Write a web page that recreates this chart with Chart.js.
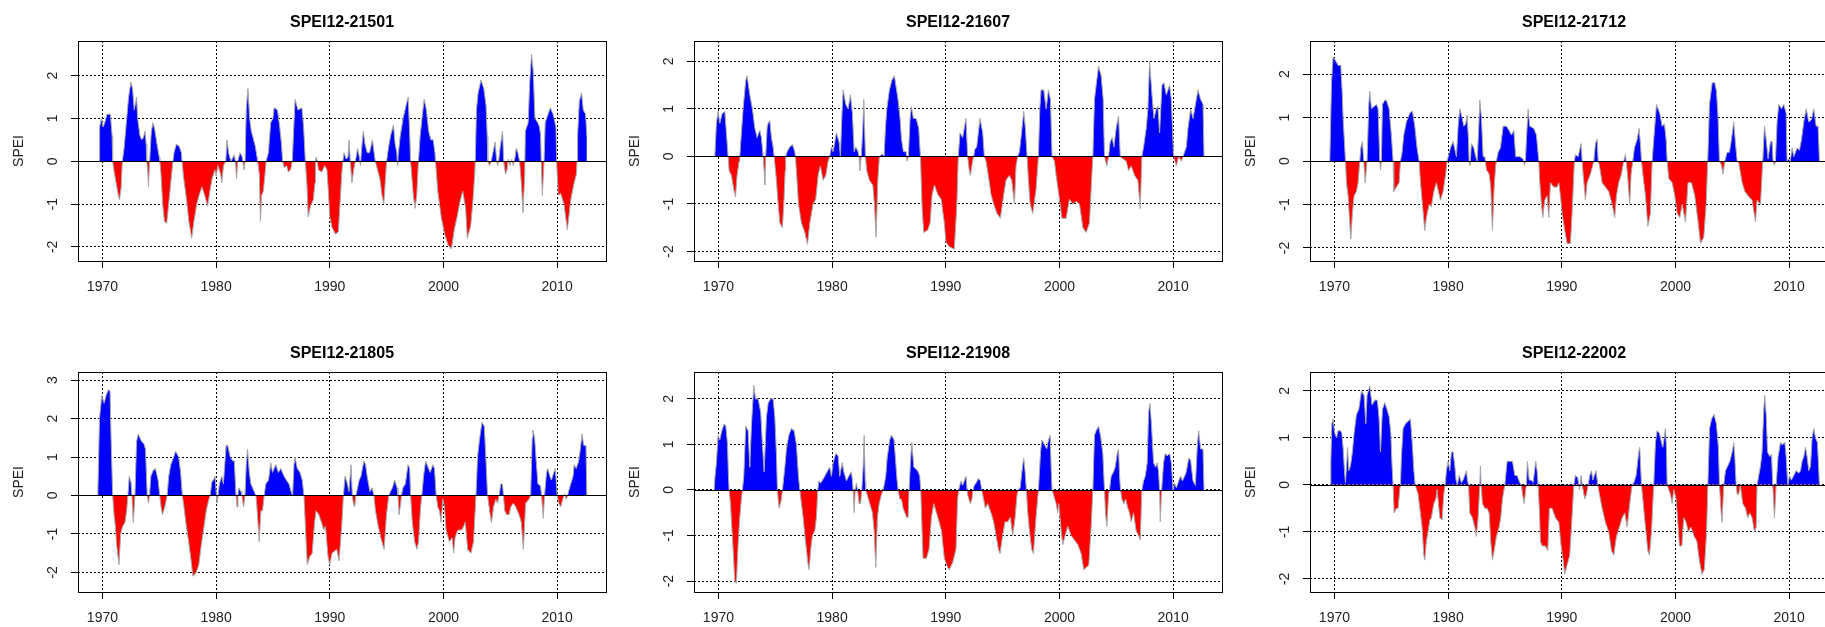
<!DOCTYPE html>
<html>
<head>
<meta charset="utf-8">
<script src="https://cdn.jsdelivr.net/npm/chart.js@4"></script>
<style>
  html, body { margin: 0; padding: 0; background: #fff; }
  body { width: 1825px; height: 627px; overflow: hidden; position: relative; }
  canvas { position: absolute; }
</style>
</head>
<body>
<script>
// SPEI-12 series, [decimal year, value]
const xTicks = [1970, 1980, 1990, 2000, 2010];
const yTicks5 = [-2, -1, 0, 1, 2];
const yTicks6 = [-2, -1, 0, 1, 2, 3];

const s21501 = [
  [1969.7,0],[1969.75,0.8],[1969.9,1.0],[1970.05,0.8],[1970.2,0.9],[1970.4,1.1],[1970.7,1.1],[1970.85,0.6],[1970.9,0],
  [1971.0,-0.2],[1971.2,-0.5],[1971.4,-0.8],[1971.5,-0.9],[1971.65,-0.6],[1971.75,0],[1971.9,0.3],[1972.1,0.9],[1972.3,1.5],
  [1972.5,1.85],[1972.65,1.7],[1972.8,1.2],[1973.0,1.5],[1973.1,1.0],[1973.3,0.6],[1973.45,0.5],[1973.6,0.55],[1973.75,0.7],
  [1973.85,0.4],[1973.9,0],[1974.0,-0.3],[1974.05,-0.6],[1974.15,0],[1974.3,0.7],[1974.45,0.9],[1974.6,0.75],[1974.8,0.4],
  [1975.0,0.1],[1975.05,0],[1975.15,-0.3],[1975.3,-1.0],[1975.45,-1.4],[1975.65,-1.45],[1975.75,-1.2],[1975.9,-0.8],
  [1976.05,-0.4],[1976.2,0],[1976.3,0.2],[1976.5,0.4],[1976.75,0.35],[1976.95,0.2],[1977.0,0],[1977.15,-0.4],[1977.4,-0.9],
  [1977.6,-1.4],[1977.85,-1.8],[1978.05,-1.4],[1978.3,-1.0],[1978.5,-0.8],[1978.75,-0.6],[1979.0,-0.8],[1979.25,-1.05],
  [1979.45,-0.7],[1979.65,-0.4],[1979.9,-0.2],[1980.0,-0.35],[1980.15,-0.1],[1980.4,-0.3],[1980.5,-0.5],[1980.65,-0.1],
  [1980.85,0],[1980.95,0.5],[1981.1,0.2],[1981.3,0],[1981.5,0.1],[1981.6,0.15],[1981.7,0],[1981.8,-0.4],[1981.9,0],
  [1982.1,0.2],[1982.3,0.1],[1982.45,-0.2],[1982.55,0],[1982.65,1.2],[1982.8,1.7],[1982.95,1.0],[1983.1,0.7],[1983.3,0.5],
  [1983.45,0.35],[1983.6,0.1],[1983.65,0],[1983.8,-0.3],[1983.9,-1.4],[1984.0,-0.8],[1984.15,-0.7],[1984.3,-0.3],[1984.4,0],
  [1984.6,0.2],[1984.8,0.9],[1985.0,1.0],[1985.1,1.25],[1985.4,1.2],[1985.6,0.8],[1985.75,0.4],[1985.85,0],[1986.0,-0.15],
  [1986.2,-0.1],[1986.35,-0.25],[1986.55,-0.2],[1986.7,0],[1986.85,0.9],[1986.95,1.45],[1987.2,1.2],[1987.55,1.25],
  [1987.7,0.8],[1987.85,0],[1988.0,-0.6],[1988.1,-1.3],[1988.3,-1.05],[1988.55,-0.9],[1988.7,-0.5],[1988.75,0],[1988.8,0.1],
  [1988.9,0],[1989.0,-0.2],[1989.3,-0.25],[1989.55,-0.1],[1989.75,-0.2],[1989.85,-0.6],[1990.0,-1.3],[1990.2,-1.55],
  [1990.5,-1.7],[1990.75,-1.65],[1990.9,-1.0],[1991.05,-0.3],[1991.15,0],[1991.25,0.2],[1991.45,0.05],[1991.6,0.1],
  [1991.7,0.5],[1991.8,0],[1991.95,-0.5],[1992.1,-0.2],[1992.25,0],[1992.45,0.3],[1992.6,0.1],[1992.7,-0.1],[1992.8,0.3],
  [1992.95,0.7],[1993.1,0.4],[1993.3,0.2],[1993.5,0.2],[1993.75,0.5],[1993.85,0.3],[1993.95,0.1],[1994.0,0],[1994.2,-0.2],
  [1994.4,-0.4],[1994.6,-0.8],[1994.75,-1.0],[1994.9,-0.4],[1995.0,0],[1995.15,0.3],[1995.35,0.6],[1995.6,0.85],
  [1995.75,0.4],[1995.9,0.2],[1995.95,-0.1],[1996.0,0.1],[1996.2,0.6],[1996.45,1.0],[1996.7,1.3],[1996.9,1.5],[1997.05,0.5],
  [1997.1,0],[1997.2,-0.3],[1997.35,-0.8],[1997.5,-1.1],[1997.65,-0.8],[1997.8,0],[1997.95,0.6],[1998.15,1.1],[1998.3,1.45],
  [1998.5,1.2],[1998.7,0.7],[1998.9,0.5],[1999.1,0.5],[1999.25,0.2],[1999.3,0],[1999.5,-0.7],[1999.8,-1.3],[2000.1,-1.7],
  [2000.4,-1.95],[2000.7,-2.05],[2000.95,-1.6],[2001.2,-1.3],[2001.45,-0.95],[2001.7,-0.7],[2001.95,-1.1],[2002.1,-1.8],
  [2002.4,-1.5],[2002.6,-0.9],[2002.75,-0.3],[2002.8,0],[2002.9,1.2],[2003.05,1.6],[2003.3,1.9],[2003.55,1.7],[2003.75,1.3],
  [2003.85,0.6],[2003.9,0],[2004.05,-0.1],[2004.2,0],[2004.35,0.2],[2004.55,0.45],[2004.65,0.1],[2004.75,-0.1],[2004.85,0],
  [2005.0,0.35],[2005.2,0.7],[2005.3,0],[2005.45,-0.3],[2005.6,-0.2],[2005.7,0.05],[2005.85,-0.1],[2006.0,0.05],
  [2006.15,-0.1],[2006.3,0.1],[2006.4,0.3],[2006.55,0.2],[2006.7,0],[2006.85,-0.5],[2007.0,-1.2],[2007.15,-0.3],[2007.2,0.7],
  [2007.45,0.9],[2007.6,1.9],[2007.75,2.5],[2007.9,2.1],[2008.05,1.0],[2008.3,0.9],[2008.45,0.8],[2008.55,0.6],[2008.6,0],
  [2008.7,-0.8],[2008.85,0],[2008.95,0.9],[2009.2,1.1],[2009.4,1.25],[2009.65,1.1],[2009.9,0.8],[2009.95,0],[2010.1,-0.8],
  [2010.3,-0.75],[2010.6,-1.0],[2010.9,-1.6],[2011.2,-0.9],[2011.5,-0.5],[2011.7,-0.3],[2011.75,0],[2011.8,0.6],
  [2011.95,1.4],[2012.15,1.6],[2012.3,1.2],[2012.5,1.1],[2012.62,0.6]
];

const s21607 = [
  [1969.68,0],[1969.82,0.7],[1969.97,0.95],[1970.12,0.7],[1970.32,0.9],[1970.56,0.95],[1970.7,0.5],[1970.85,0],
  [1970.94,-0.3],[1971.14,-0.4],[1971.35,-0.7],[1971.5,-0.85],[1971.64,-0.4],[1971.82,-0.1],[1971.88,0],[1971.96,0.3],
  [1972.17,1.0],[1972.4,1.6],[1972.52,1.7],[1972.76,1.3],[1972.99,1.0],[1973.2,0.6],[1973.4,0.4],[1973.64,0.55],
  [1973.78,0.4],[1973.93,0],[1974.02,-0.3],[1974.08,-0.6],[1974.16,0],[1974.28,0.6],[1974.37,0.7],[1974.52,0.75],
  [1974.66,0.4],[1974.81,0.2],[1974.9,0],[1975.1,-0.5],[1975.25,-1.0],[1975.4,-1.4],[1975.63,-1.5],[1975.75,-1.0],
  [1975.87,-0.3],[1975.92,0],[1976.04,0.1],[1976.27,0.2],[1976.51,0.25],[1976.72,0.1],[1976.77,0],[1976.86,-0.3],
  [1977.04,-1.0],[1977.3,-1.4],[1977.6,-1.6],[1977.83,-1.85],[1978.04,-1.4],[1978.33,-1.0],[1978.56,-0.9],[1978.77,-0.4],
  [1978.97,-0.2],[1979.21,-0.5],[1979.44,-0.4],[1979.65,-0.1],[1979.79,0],[1979.94,0.2],[1980.09,0.1],[1980.38,0.5],
  [1980.62,0.3],[1980.73,0],[1980.85,0.8],[1980.97,1.4],[1981.2,1.1],[1981.41,1.0],[1981.61,1.3],[1981.79,0.9],
  [1981.94,0.1],[1982.08,0.2],[1982.29,0.1],[1982.37,0],[1982.43,-0.3],[1982.57,0],[1982.7,0.6],[1982.79,1.2],
  [1982.87,0.5],[1982.93,0],[1983.05,-0.3],[1983.28,-0.5],[1983.58,-0.6],[1983.72,-1.0],[1983.87,-1.7],[1984.02,-0.5],
  [1984.16,0],[1984.4,0.05],[1984.57,0],[1984.69,0.6],[1984.81,1.0],[1985.04,1.4],[1985.25,1.6],[1985.48,1.7],[1985.8,1.2],
  [1985.98,0.8],[1986.09,0.4],[1986.27,0.1],[1986.51,0.1],[1986.6,-0.1],[1986.71,0],[1986.86,0.8],[1986.97,1.05],
  [1987.15,0.8],[1987.39,0.8],[1987.62,0.6],[1987.77,0],[1987.92,-1.1],[1988.06,-1.6],[1988.41,-1.55],[1988.62,-1.4],
  [1988.8,-0.8],[1989.0,-0.6],[1989.3,-0.8],[1989.59,-0.9],[1989.87,-1.4],[1990.01,-1.8],[1990.31,-1.9],[1990.75,-1.95],
  [1990.98,-1.0],[1991.1,0],[1991.25,0.5],[1991.48,0.4],[1991.78,0.8],[1991.92,0],[1992.07,-0.3],[1992.16,-0.4],
  [1992.36,-0.1],[1992.45,0],[1992.56,0.15],[1992.72,0.2],[1993.01,0.8],[1993.25,0.5],[1993.39,0],[1993.54,-0.1],
  [1993.74,-0.4],[1993.98,-0.8],[1994.21,-1.0],[1994.51,-1.2],[1994.8,-1.3],[1995.1,-0.8],[1995.3,-0.5],[1995.59,-0.4],
  [1995.8,-0.5],[1996.04,-1.0],[1996.18,-0.2],[1996.33,0],[1996.48,0.1],[1996.62,0.4],[1996.86,0.95],[1997.0,0.6],
  [1997.15,0],[1997.27,-0.5],[1997.42,-1.0],[1997.65,-1.2],[1997.94,-0.7],[1998.15,0],[1998.27,1.0],[1998.38,1.4],
  [1998.62,1.4],[1998.83,1.0],[1999.03,1.4],[1999.21,1.2],[1999.35,0],[1999.56,-0.1],[1999.71,-0.4],[2000.0,-0.9],
  [2000.21,-1.3],[2000.59,-1.3],[2000.88,-0.9],[2001.17,-1.0],[2001.47,-0.95],[2001.76,-1.0],[2002.06,-1.5],[2002.35,-1.6],
  [2002.64,-1.4],[2002.85,-0.4],[2002.94,0],[2003.08,1.2],[2003.23,1.5],[2003.44,1.9],[2003.67,1.7],[2003.85,1.2],
  [2003.96,0],[2004.17,-0.2],[2004.32,0],[2004.46,0.3],[2004.64,0.4],[2004.79,0.2],[2004.99,0.6],[2005.2,0.85],[2005.35,0],
  [2005.58,-0.05],[2005.87,-0.1],[2006.08,-0.3],[2006.31,-0.2],[2006.61,-0.4],[2006.9,-0.5],[2007.11,-1.1],[2007.25,0],
  [2007.4,0.2],[2007.64,0.6],[2007.78,1.0],[2007.93,2.0],[2008.14,1.3],[2008.31,0.8],[2008.52,1.0],[2008.66,1.05],
  [2008.81,0.5],[2009.02,1.5],[2009.19,1.55],[2009.4,1.3],[2009.69,1.5],[2009.84,1.2],[2010.04,0],[2010.28,-0.2],
  [2010.49,0],[2010.72,-0.1],[2010.87,0],[2011.16,0.2],[2011.31,0.6],[2011.54,1.0],[2011.75,0.8],[2012.04,1.2],
  [2012.19,1.4],[2012.42,1.2],[2012.63,1.1],[2012.72,0]
];

const s21712 = [
  [1969.59,0],[1969.65,0.7],[1969.74,1.8],[1969.88,2.4],[1970.12,2.3],[1970.32,2.2],[1970.56,2.2],[1970.7,1.5],
  [1970.76,1.0],[1970.91,0.3],[1970.97,0],[1971.06,-0.5],[1971.2,-0.8],[1971.29,-1.2],[1971.44,-1.8],[1971.58,-1.2],
  [1971.73,-0.8],[1971.94,-0.7],[1972.08,-0.5],[1972.23,0],[1972.32,0.3],[1972.46,0.45],[1972.58,0],[1972.7,-0.5],
  [1972.87,0],[1973.02,1.3],[1973.11,1.6],[1973.26,1.2],[1973.46,1.25],[1973.7,1.3],[1973.84,1.2],[1973.99,0],
  [1974.05,-0.2],[1974.13,0],[1974.22,1.3],[1974.43,1.4],[1974.57,1.4],[1974.81,1.2],[1975.01,0.6],[1975.16,0],
  [1975.22,-0.7],[1975.45,-0.6],[1975.69,-0.5],[1975.81,0],[1975.95,0.2],[1976.1,0.6],[1976.33,0.9],[1976.63,1.1],
  [1976.86,1.15],[1977.07,0.8],[1977.27,0.3],[1977.45,0],[1977.57,-0.5],[1977.74,-1.0],[1977.95,-1.6],[1978.09,-1.3],
  [1978.33,-1.0],[1978.53,-1.05],[1978.74,-0.7],[1978.97,-0.5],[1979.33,-0.9],[1979.56,-0.7],[1979.79,-0.3],[1979.91,0],
  [1980.21,0.3],[1980.44,0.45],[1980.73,0.1],[1980.88,0.8],[1981.03,1.2],[1981.23,1.0],[1981.38,0.8],[1981.55,0.85],
  [1981.67,1.05],[1981.79,0.5],[1981.85,0],[1981.91,-0.1],[1981.96,0],[1982.05,0.4],[1982.26,0.3],[1982.43,0.1],
  [1982.55,0],[1982.67,0.6],[1982.79,1.4],[1982.93,1.0],[1983.08,0.1],[1983.23,0.1],[1983.28,0],[1983.37,-0.2],
  [1983.61,-0.3],[1983.75,-0.6],[1983.9,-1.6],[1984.05,-0.6],[1984.19,-0.1],[1984.25,0],[1984.4,0.2],[1984.6,0.3],
  [1984.84,0.8],[1985.13,0.8],[1985.37,0.7],[1985.57,0.6],[1985.78,0.7],[1985.95,0.1],[1986.3,0.1],[1986.6,0.05],
  [1986.72,-0.1],[1986.8,0],[1986.89,0.5],[1987.04,1.2],[1987.18,0.8],[1987.54,0.75],[1987.77,0.6],[1987.98,0],
  [1988.04,-0.4],[1988.21,-1.0],[1988.33,-1.3],[1988.5,-0.9],[1988.71,-0.8],[1988.86,-1.3],[1989.0,-0.5],[1989.3,-0.6],
  [1989.59,-0.6],[1989.74,-0.5],[1989.88,-0.8],[1990.03,-1.2],[1990.26,-1.6],[1990.47,-1.9],[1990.76,-1.9],[1990.91,-1.2],
  [1991.11,0],[1991.2,0.15],[1991.44,0.1],[1991.7,0.4],[1991.79,0],[1991.88,-0.3],[1992.08,-0.9],[1992.23,-0.5],
  [1992.52,-0.3],[1992.73,-0.1],[1992.82,0],[1992.96,0.4],[1993.11,0.5],[1993.2,0],[1993.31,-0.1],[1993.55,-0.5],
  [1993.84,-0.6],[1994.13,-0.7],[1994.43,-1.0],[1994.66,-1.3],[1994.81,-0.8],[1995.01,-0.5],[1995.25,-0.3],[1995.45,0],
  [1995.6,0.15],[1995.66,0],[1995.78,-0.3],[1995.98,-1.0],[1996.1,-0.3],[1996.25,0],[1996.39,0.3],[1996.63,0.5],
  [1996.8,0.75],[1996.92,0.4],[1997.01,0],[1997.13,-0.3],[1997.36,-0.8],[1997.57,-1.5],[1997.8,-1.2],[1997.95,0],
  [1998.09,0.5],[1998.33,1.3],[1998.62,1.1],[1998.83,0.8],[1999.03,0.85],[1999.18,0.5],[1999.27,0],[1999.41,-0.4],
  [1999.71,-0.5],[1999.94,-0.8],[2000.15,-1.2],[2000.38,-1.3],[2000.59,-1.0],[2000.88,-1.4],[2001.11,-0.5],[2001.41,-0.5],
  [2001.7,-0.8],[2001.99,-1.4],[2002.2,-1.9],[2002.49,-1.75],[2002.7,-1.0],[2002.84,0],[2002.99,1.3],[2003.23,1.8],
  [2003.46,1.8],[2003.61,1.6],[2003.75,1.0],[2003.87,0],[2004.05,-0.1],[2004.19,-0.3],[2004.34,0],[2004.55,0.2],
  [2004.75,0.2],[2004.93,0.5],[2005.13,0.9],[2005.28,0.4],[2005.43,0],[2005.57,-0.05],[2005.87,-0.5],[2006.1,-0.7],
  [2006.39,-0.8],[2006.74,-0.9],[2007.04,-1.4],[2007.18,-0.9],[2007.48,-1.0],[2007.68,0],[2007.83,0.8],[2007.98,0.5],
  [2008.15,0.05],[2008.36,0.45],[2008.5,0.45],[2008.59,0],[2008.71,-0.1],[2008.8,0],[2008.94,0.9],[2009.09,1.3],
  [2009.33,1.2],[2009.53,1.3],[2009.74,1.1],[2009.82,0],[2009.97,0.05],[2010.1,0],[2010.26,0.3],[2010.41,0.1],
  [2010.7,0.3],[2010.91,0.25],[2011.09,0.5],[2011.29,0.9],[2011.5,1.2],[2011.73,0.9],[2011.96,0.95],[2012.17,1.2],
  [2012.38,0.8],[2012.55,0.8],[2012.67,0]
];

const s21805 = [
  [1969.59,0],[1969.65,0.8],[1969.74,2.0],[1969.94,2.6],[1970.15,2.4],[1970.32,2.6],[1970.52,2.75],[1970.67,2.7],
  [1970.76,1.5],[1970.9,0],[1971.02,-0.5],[1971.14,-0.8],[1971.25,-1.3],[1971.46,-1.8],[1971.6,-1.0],[1971.78,-0.8],
  [1971.98,-0.7],[1972.13,-0.4],[1972.24,0],[1972.36,0.5],[1972.51,0.35],[1972.59,0],[1972.71,-0.7],[1972.86,0],
  [1973.0,1.4],[1973.15,1.6],[1973.44,1.4],[1973.64,1.35],[1973.79,1.2],[1973.94,0],[1974.05,-0.2],[1974.14,0],
  [1974.26,0.5],[1974.46,0.65],[1974.66,0.7],[1974.9,0.4],[1975.04,0],[1975.16,-0.3],[1975.28,-0.5],[1975.48,-0.3],
  [1975.69,0],[1975.83,0.5],[1976.01,0.8],[1976.27,1.0],[1976.44,1.15],[1976.71,1.0],[1976.88,0.6],[1977.03,0],
  [1977.17,-0.3],[1977.38,-0.8],[1977.58,-1.2],[1977.76,-1.6],[1977.96,-2.1],[1978.25,-2.0],[1978.48,-1.8],[1978.69,-1.3],
  [1978.89,-0.9],[1979.13,-0.4],[1979.36,-0.1],[1979.48,0],[1979.62,0.35],[1979.77,0.4],[1979.91,0.5],[1980.03,0],
  [1980.09,-0.2],[1980.17,0],[1980.29,0.3],[1980.5,0.5],[1980.64,0.3],[1980.88,1.3],[1981.02,1.3],[1981.25,1.0],
  [1981.46,0.9],[1981.6,0.9],[1981.75,0],[1981.84,-0.3],[1981.92,0],[1981.98,0.2],[1982.19,0.1],[1982.27,0],
  [1982.42,-0.3],[1982.54,0],[1982.65,0.8],[1982.77,1.2],[1982.92,0.6],[1983.06,0.3],[1983.35,0.1],[1983.5,0],
  [1983.59,-0.3],[1983.79,-1.2],[1983.94,-0.4],[1984.08,-0.4],[1984.23,0],[1984.37,0.3],[1984.61,0.4],[1984.81,0.85],
  [1984.96,0.6],[1985.25,0.8],[1985.48,0.6],[1985.69,0.7],[1985.98,0.5],[1986.18,0.4],[1986.41,0.3],[1986.65,0.05],
  [1986.73,0],[1986.85,0.8],[1986.94,1.0],[1987.14,0.7],[1987.38,0.6],[1987.58,0.4],[1987.73,0],[1987.87,-0.9],
  [1988.02,-1.8],[1988.22,-1.6],[1988.45,-1.5],[1988.66,-0.7],[1988.8,-0.4],[1989.04,-0.5],[1989.27,-0.7],[1989.48,-0.9],
  [1989.62,-0.8],[1989.85,-1.6],[1990.0,-1.8],[1990.2,-1.5],[1990.61,-1.4],[1990.82,-1.7],[1991.05,-0.8],[1991.2,0],
  [1991.34,0.5],[1991.55,0.3],[1991.69,0.1],[1991.87,0.8],[1991.98,0],[1992.07,-0.2],[1992.18,-0.3],[1992.3,0],
  [1992.59,0.4],[1992.74,0.5],[1993.0,0.9],[1993.15,0.8],[1993.29,0.5],[1993.53,0.1],[1993.73,0.2],[1993.88,0],
  [1994.02,-0.4],[1994.26,-0.8],[1994.49,-1.1],[1994.78,-1.4],[1994.99,-0.5],[1995.19,0],[1995.34,0.1],[1995.51,0.2],
  [1995.71,0.4],[1995.92,0.2],[1996.0,0],[1996.09,-0.5],[1996.24,-0.2],[1996.3,0],[1996.44,0.2],[1996.65,0.3],
  [1996.88,0.8],[1997.03,0.7],[1997.11,0],[1997.26,-0.7],[1997.46,-1.2],[1997.67,-1.4],[1997.81,-1.2],[1997.99,-0.3],
  [1998.1,0],[1998.25,0.5],[1998.43,0.9],[1998.69,0.7],[1998.83,0.6],[1999.07,0.8],[1999.21,0.7],[1999.36,0],
  [1999.5,-0.3],[1999.65,-0.4],[1999.8,-0.7],[1999.94,-0.1],[2000.03,-0.2],[2000.09,-0.3],[2000.23,-0.9],[2000.52,-1.2],
  [2000.76,-1.1],[2000.9,-1.5],[2001.02,-1.1],[2001.25,-0.9],[2001.6,-0.9],[2001.78,-0.8],[2001.92,-0.7],[2002.13,-1.4],
  [2002.42,-1.5],[2002.65,-1.2],[2002.77,-0.5],[2002.86,0],[2003.0,1.0],[2003.15,1.4],[2003.38,1.9],[2003.59,1.8],
  [2003.73,1.0],[2003.88,0],[2004.11,-0.5],[2004.23,-0.7],[2004.4,-0.3],[2004.61,-0.1],[2004.75,-0.2],[2004.9,0],
  [2005.04,0.3],[2005.19,0.3],[2005.28,0],[2005.39,-0.4],[2005.57,-0.5],[2005.77,-0.5],[2005.92,-0.3],[2006.15,-0.2],
  [2006.36,-0.3],[2006.65,-0.5],[2006.85,-0.7],[2007.03,-1.4],[2007.23,-0.2],[2007.52,-0.1],[2007.67,0],[2007.81,1.5],
  [2007.87,1.7],[2008.02,1.5],[2008.16,0.9],[2008.31,0.3],[2008.54,0.25],[2008.63,0],[2008.78,-0.6],[2008.89,0],
  [2009.07,0.6],[2009.18,0.7],[2009.36,0.5],[2009.5,0.4],[2009.71,0.6],[2009.85,0.7],[2010.0,0],[2010.15,-0.2],
  [2010.3,-0.3],[2010.5,-0.1],[2010.65,0.05],[2010.8,-0.1],[2010.93,0],[2011.0,0.1],[2011.2,0.3],[2011.4,0.5],
  [2011.5,0.8],[2011.68,0.7],[2011.9,0.9],[2012.04,1.2],[2012.19,1.6],[2012.34,1.3],[2012.54,1.3],[2012.62,0]
];

const s21908 = [
  [1969.62,0],[1969.7,0.3],[1969.82,0.6],[1969.97,1.2],[1970.12,1.1],[1970.3,1.3],[1970.5,1.45],[1970.65,1.4],
  [1970.8,1.0],[1970.88,0.3],[1970.94,0],[1971.06,-0.3],[1971.17,-0.8],[1971.29,-1.3],[1971.44,-2.0],[1971.58,-2.05],
  [1971.73,-1.2],[1971.88,-0.6],[1972.02,-0.2],[1972.11,0],[1972.23,0.3],[1972.4,1.4],[1972.61,1.3],[1972.76,0.5],
  [1972.9,1.4],[1973.11,2.3],[1973.26,2.0],[1973.49,2.0],[1973.72,1.7],[1973.87,1.0],[1974.02,0.4],[1974.22,1.6],
  [1974.37,1.9],[1974.57,2.0],[1974.81,2.0],[1974.96,1.6],[1975.1,0.8],[1975.19,0],[1975.25,-0.2],[1975.34,-0.4],
  [1975.54,-0.2],[1975.63,0],[1975.84,0.5],[1975.98,0.9],[1976.19,1.2],[1976.42,1.35],[1976.66,1.3],[1976.86,1.0],
  [1977.04,0.3],[1977.16,0],[1977.3,-0.3],[1977.45,-0.6],[1977.6,-1.0],[1977.74,-1.3],[1977.86,-1.6],[1977.98,-1.75],
  [1978.12,-1.3],[1978.27,-1.0],[1978.48,-0.9],[1978.62,-0.6],[1978.74,0],[1978.83,0.2],[1978.98,0.15],[1979.12,0.2],
  [1979.35,0.3],[1979.56,0.4],[1979.79,0.5],[1979.94,0.3],[1980.09,0.6],[1980.32,0.8],[1980.53,0.75],[1980.67,0.3],
  [1980.88,0.6],[1981.03,0.4],[1981.26,0.2],[1981.46,0.3],[1981.7,0.4],[1981.79,0.2],[1981.85,0],[1981.94,-0.5],
  [1982.03,0],[1982.14,0.15],[1982.23,0],[1982.38,-0.3],[1982.5,-0.3],[1982.61,0],[1982.73,0.5],[1982.82,1.2],
  [1982.91,0.2],[1982.96,0],[1983.08,-0.1],[1983.31,-0.3],[1983.55,-0.5],[1983.7,-0.9],[1983.84,-1.7],[1983.99,-0.6],
  [1984.14,-0.3],[1984.34,-0.1],[1984.49,0],[1984.72,0.3],[1984.84,0.7],[1985.07,1.1],[1985.22,1.2],[1985.45,1.1],
  [1985.6,0.6],[1985.72,0.2],[1985.81,0],[1985.95,-0.2],[1986.1,-0.2],[1986.25,-0.4],[1986.4,-0.5],[1986.55,-0.6],
  [1986.69,-0.6],[1986.77,0],[1986.89,0.6],[1987.01,1.05],[1987.19,0.5],[1987.42,0.45],[1987.57,0.4],[1987.71,0.3],
  [1987.8,0],[1987.86,-0.5],[1988.0,-1.5],[1988.3,-1.5],[1988.53,-1.3],[1988.74,-0.6],[1988.94,-0.3],[1989.18,-0.5],
  [1989.41,-0.7],[1989.62,-0.9],[1989.87,-1.5],[1990.16,-1.7],[1990.3,-1.75],[1990.6,-1.6],[1990.9,-1.3],[1991.04,-0.2],
  [1991.13,0],[1991.34,0.2],[1991.48,0.1],[1991.78,0.3],[1991.87,0],[1991.92,-0.1],[1992.16,-0.3],[1992.3,-0.2],
  [1992.39,0],[1992.51,0.1],[1992.66,0.15],[1992.86,0.25],[1993.04,0.2],[1993.16,0],[1993.25,-0.1],[1993.48,-0.4],
  [1993.69,-0.3],[1993.98,-0.5],[1994.21,-0.7],[1994.42,-1.0],[1994.63,-1.3],[1994.77,-1.4],[1995.0,-1.0],[1995.21,-0.7],
  [1995.45,-0.7],[1995.68,-0.6],[1995.89,-1.0],[1996.1,-0.6],[1996.27,-0.1],[1996.39,0],[1996.54,0.05],[1996.74,0.5],
  [1996.86,0.7],[1996.98,0.4],[1997.09,0],[1997.21,-0.5],[1997.36,-0.9],[1997.56,-1.3],[1997.71,-1.4],[1997.94,-0.6],
  [1998.15,0],[1998.33,0.8],[1998.44,1.1],[1998.68,1.0],[1998.88,0.9],[1999.03,1.1],[1999.18,1.2],[1999.27,0.5],
  [1999.35,0],[1999.47,-0.1],[1999.71,-0.3],[1999.85,-0.5],[1999.94,-0.3],[2000.15,-0.9],[2000.29,-1.2],[2000.5,-1.0],
  [2000.73,-0.8],[2001.03,-1.0],[2001.32,-1.1],[2001.62,-1.2],[2001.91,-1.4],[2002.14,-1.75],[2002.35,-1.7],
  [2002.58,-1.65],[2002.79,-0.8],[2002.94,0],[2003.08,1.2],[2003.23,1.3],[2003.44,1.4],[2003.61,1.2],[2003.82,0.8],
  [2003.96,0],[2004.05,-0.5],[2004.17,-0.8],[2004.32,-0.1],[2004.4,0],[2004.55,0.3],[2004.76,0.4],[2004.9,0.5],
  [2005.08,0.8],[2005.2,0.9],[2005.29,0.3],[2005.37,0],[2005.49,-0.2],[2005.67,-0.3],[2005.82,-0.2],[2006.02,-0.4],
  [2006.16,-0.5],[2006.31,-0.7],[2006.52,-0.5],[2006.75,-0.9],[2006.96,-1.0],[2007.11,-1.1],[2007.25,0],[2007.4,0.2],
  [2007.55,0.3],[2007.72,0.6],[2007.84,1.7],[2007.96,1.9],[2008.08,1.5],[2008.28,0.6],[2008.46,0.5],[2008.6,0.6],
  [2008.72,0.4],[2008.81,0],[2008.87,-0.7],[2008.99,0],[2009.16,0.6],[2009.31,0.8],[2009.46,0.75],[2009.69,0.8],
  [2009.84,0.6],[2009.99,0],[2010.13,0.15],[2010.28,0.05],[2010.49,0.2],[2010.66,0.3],[2010.81,0.2],[2011.01,0.3],
  [2011.16,0.4],[2011.37,0.7],[2011.54,0.65],[2011.75,0.2],[2011.96,0.1],[2012.13,1.0],[2012.25,1.3],[2012.42,0.9],
  [2012.63,0.9],[2012.72,0]
];

const s22002 = [
  [1969.65,0],[1969.68,0.5],[1969.77,1.3],[1969.88,1.4],[1970.03,1.1],[1970.18,1.0],[1970.32,1.15],[1970.53,1.15],
  [1970.65,1.1],[1970.76,0.8],[1970.91,0.2],[1970.97,0.05],[1971.09,0.5],[1971.15,0.8],[1971.26,0.3],[1971.41,0.4],
  [1971.58,0.7],[1971.73,1.1],[1971.94,1.5],[1972.14,1.6],[1972.38,2.0],[1972.61,1.9],[1972.76,1.3],[1972.87,1.9],
  [1973.11,2.1],[1973.31,1.7],[1973.55,1.8],[1973.78,1.8],[1973.93,1.4],[1974.05,0.7],[1974.22,1.6],[1974.43,1.75],
  [1974.63,1.6],[1974.81,1.45],[1974.96,1.1],[1975.07,0.4],[1975.16,0],[1975.25,-0.6],[1975.45,-0.5],[1975.6,-0.5],
  [1975.75,-0.1],[1975.81,0],[1975.89,0.6],[1976.04,1.2],[1976.25,1.3],[1976.48,1.35],[1976.69,1.4],[1976.87,0.8],
  [1976.99,0.3],[1977.1,0],[1977.36,-0.2],[1977.51,-0.5],[1977.71,-0.9],[1977.86,-1.5],[1977.95,-1.6],[1978.09,-1.2],
  [1978.24,-1.0],[1978.39,-0.75],[1978.53,-0.7],[1978.74,-0.4],[1978.92,-0.3],[1979.03,-0.1],[1979.27,-0.7],
  [1979.47,-0.75],[1979.62,-0.2],[1979.74,0],[1979.85,0.3],[1980.0,0.5],[1980.15,0.3],[1980.29,0.7],[1980.44,0.7],
  [1980.59,0.4],[1980.7,0.1],[1980.82,0],[1980.97,0.2],[1981.17,0.05],[1981.32,0.1],[1981.61,0.3],[1981.7,0.1],
  [1981.79,0],[1981.91,-0.6],[1982.14,-0.7],[1982.35,-0.9],[1982.49,-1.1],[1982.64,-0.7],[1982.79,0],[1982.84,0.4],
  [1982.9,0],[1983.02,-0.4],[1983.23,-0.5],[1983.43,-0.5],[1983.61,-0.6],[1983.75,-1.2],[1983.9,-1.6],[1984.05,-1.4],
  [1984.25,-1.1],[1984.49,-0.9],[1984.63,-0.7],[1984.78,-0.3],[1984.99,0],[1985.19,0.5],[1985.43,0.5],[1985.66,0.5],
  [1985.87,0.2],[1986.07,0.2],[1986.3,0.05],[1986.45,0],[1986.54,-0.2],[1986.69,-0.4],[1986.83,-0.1],[1986.89,0],
  [1986.98,0.5],[1987.13,0.1],[1987.33,0.1],[1987.48,0.05],[1987.71,0.5],[1987.83,0.3],[1987.92,0],[1988.04,-0.6],
  [1988.12,-1.2],[1988.27,-1.3],[1988.56,-1.3],[1988.77,-1.4],[1988.91,-0.5],[1989.15,-0.5],[1989.44,-0.7],
  [1989.74,-0.8],[1989.94,-1.3],[1990.12,-1.6],[1990.26,-1.9],[1990.47,-1.7],[1990.7,-1.5],[1990.85,-0.9],[1991.06,0],
  [1991.2,0.2],[1991.4,0.15],[1991.5,0],[1991.56,-0.1],[1991.63,0],[1991.7,0.2],[1991.79,0],[1992.02,-0.3],
  [1992.17,-0.2],[1992.32,0],[1992.46,0.2],[1992.61,0.3],[1992.73,0.1],[1992.87,0.2],[1993.02,0.3],[1993.17,0],
  [1993.31,-0.2],[1993.55,-0.5],[1993.84,-0.8],[1994.13,-1.0],[1994.37,-1.4],[1994.57,-1.5],[1994.81,-1.1],
  [1995.07,-0.9],[1995.31,-0.7],[1995.54,-0.6],[1995.75,-0.9],[1995.98,-0.4],[1996.19,0],[1996.34,0.05],[1996.54,0.2],
  [1996.77,0.7],[1996.86,0.8],[1997.01,0],[1997.13,-0.3],[1997.36,-0.9],[1997.57,-1.4],[1997.71,-1.5],[1997.89,-1.0],
  [1998.09,0],[1998.24,0.9],[1998.39,1.15],[1998.59,1.1],[1998.77,0.9],[1998.89,0.8],[1999.12,1.2],[1999.21,0.8],
  [1999.27,0],[1999.41,-0.1],[1999.56,-0.2],[1999.71,-0.4],[1999.85,-0.1],[2000.06,-0.3],[2000.21,-0.8],[2000.35,-1.3],
  [2000.56,-1.3],[2000.73,-0.7],[2000.94,-0.8],[2001.13,-1.0],[2001.36,-0.9],[2001.65,-1.1],[2001.88,-1.2],[2002.1,-1.6],
  [2002.33,-1.9],[2002.54,-1.8],[2002.74,-1.0],[2002.85,0],[2003.0,1.2],[2003.18,1.4],[2003.39,1.5],[2003.6,1.3],
  [2003.78,0.8],[2003.87,0],[2004.02,-0.6],[2004.1,-0.8],[2004.25,0],[2004.4,0.3],[2004.6,0.4],[2004.78,0.5],
  [2004.99,0.7],[2005.13,0.9],[2005.22,0.6],[2005.34,0],[2005.43,-0.2],[2005.57,-0.2],[2005.7,0],[2005.92,-0.4],
  [2006.16,-0.5],[2006.36,-0.7],[2006.54,-0.6],[2006.74,-0.7],[2006.95,-1.0],[2007.1,-0.9],[2007.18,0],[2007.33,0.2],
  [2007.48,0.4],[2007.62,0.7],[2007.77,1.6],[2007.86,1.9],[2007.98,1.5],[2008.1,0.7],[2008.3,0.6],[2008.45,0.65],
  [2008.56,0],[2008.71,-0.7],[2008.86,0],[2009.03,0.6],[2009.24,0.9],[2009.4,0.85],[2009.62,0.9],[2009.74,0.6],
  [2009.88,0],[2010.03,0.2],[2010.2,0.1],[2010.41,0.2],[2010.61,0.3],[2010.85,0.25],[2011.0,0.3],[2011.14,0.5],
  [2011.29,0.6],[2011.44,0.8],[2011.58,0.6],[2011.73,0.3],[2011.88,0.4],[2012.02,1.0],[2012.17,1.2],[2012.32,1.0],
  [2012.49,0.9],[2012.67,0]
];

const panels = [
  { name: "SPEI12-21501", data: s21501, yMin: -2.33, yMax: 2.81, yTicks: yTicks5, col: 0, row: 0 },
  { name: "SPEI12-21607", data: s21607, yMin: -2.2,  yMax: 2.43, yTicks: yTicks5, col: 1, row: 0 },
  { name: "SPEI12-21712", data: s21712, yMin: -2.3,  yMax: 2.76, yTicks: yTicks5, col: 2, row: 0 },
  { name: "SPEI12-21805", data: s21805, yMin: -2.51, yMax: 3.21, yTicks: yTicks6, col: 0, row: 1 },
  { name: "SPEI12-21908", data: s21908, yMin: -2.24, yMax: 2.59, yTicks: yTicks5, col: 1, row: 1 },
  { name: "SPEI12-22002", data: s22002, yMin: -2.28, yMax: 2.40, yTicks: yTicks5, col: 2, row: 1 }
];

const FONT = '"Liberation Sans", Arial, Helvetica, sans-serif';

// R-style decorations: full box, zero line, rotated y labels, titles
const rStyle = {
  id: "rStyle",
  afterDatasetsDraw(chart) {
    const { ctx, chartArea: a, scales } = chart;
    const y0 = Math.round(scales.y.getPixelForValue(0)) + 0.5;
    ctx.save();
    ctx.strokeStyle = "#000";
    ctx.lineWidth = 1;
    ctx.beginPath();
    ctx.moveTo(a.left, y0);
    ctx.lineTo(a.right, y0);
    ctx.stroke();
    ctx.restore();
  },
  afterDraw(chart, args, opts) {
    const { ctx, chartArea: a, scales } = chart;
    ctx.save();
    ctx.strokeStyle = "#000";
    ctx.lineWidth = 1;
    ctx.strokeRect(Math.round(a.left) + 0.5, Math.round(a.top) + 0.5,
      Math.round(a.right - a.left), Math.round(a.bottom - a.top));

    ctx.fillStyle = "#222";
    ctx.font = "14px " + FONT;
    ctx.textAlign = "center";
    ctx.textBaseline = "middle";
    for (const t of scales.x.ticks) {
      ctx.fillText(String(t.value), scales.x.getPixelForValue(t.value), a.bottom + 26);
    }
    for (const t of scales.y.ticks) {
      ctx.save();
      ctx.translate(a.left - 25, scales.y.getPixelForValue(t.value));
      ctx.rotate(-Math.PI / 2);
      ctx.fillText(String(t.value), 0, 0);
      ctx.restore();
    }
    ctx.save();
    ctx.translate(a.left - 59, (a.top + a.bottom) / 2);
    ctx.rotate(-Math.PI / 2);
    ctx.fillText("SPEI", 0, 0);
    ctx.restore();

    ctx.fillStyle = "#000";
    ctx.font = "bold 16px " + FONT;
    ctx.fillText(opts.title, (a.left + a.right) / 2, a.top - 18);
    ctx.restore();
  }
};

const gridOpts = {
  color: "#000",
  lineWidth: 1,
  tickLength: 7,
  tickColor: "#000",
  tickBorderDash: [],
  drawTicks: true
};

panels.forEach(p => {
  const cv = document.createElement("canvas");
  cv.width = 616;
  cv.height = 300;
  cv.style.left = (p.col * 616) + "px";
  cv.style.top = (p.row * 331) + "px";
  document.body.appendChild(cv);

  new Chart(cv, {
    type: "line",
    data: {
      datasets: [{
        data: p.data.map(d => ({ x: d[0], y: d[1] })),
        borderColor: "#a9a9a9",
        borderWidth: 1,
        pointRadius: 0,
        tension: 0,
        fill: { target: { value: 0 }, above: "#0000ff", below: "#ff0000" }
      }]
    },
    options: {
      responsive: false,
      animation: false,
      events: [],
      layout: { padding: { left: 71, top: 41, right: 10, bottom: 32 } },
      plugins: {
        legend: { display: false },
        tooltip: { enabled: false },
        title: { display: false },
        rStyle: { title: p.name }
      },
      scales: {
        x: {
          type: "linear",
          min: 1967.85,
          max: 2014.3,
          afterBuildTicks: s => { s.ticks = xTicks.map(v => ({ value: v })); },
          afterFit: s => { s.height = 7; },
          ticks: { display: false },
          grid: gridOpts,
          border: { display: false, dash: [2, 2] }
        },
        y: {
          type: "linear",
          min: p.yMin,
          max: p.yMax,
          afterBuildTicks: s => { s.ticks = p.yTicks.map(v => ({ value: v })); },
          afterFit: s => { s.width = 7; },
          ticks: { display: false },
          grid: gridOpts,
          border: { display: false, dash: [2, 2] }
        }
      }
    },
    plugins: [rStyle]
  });
});
</script>
</body>
</html>
